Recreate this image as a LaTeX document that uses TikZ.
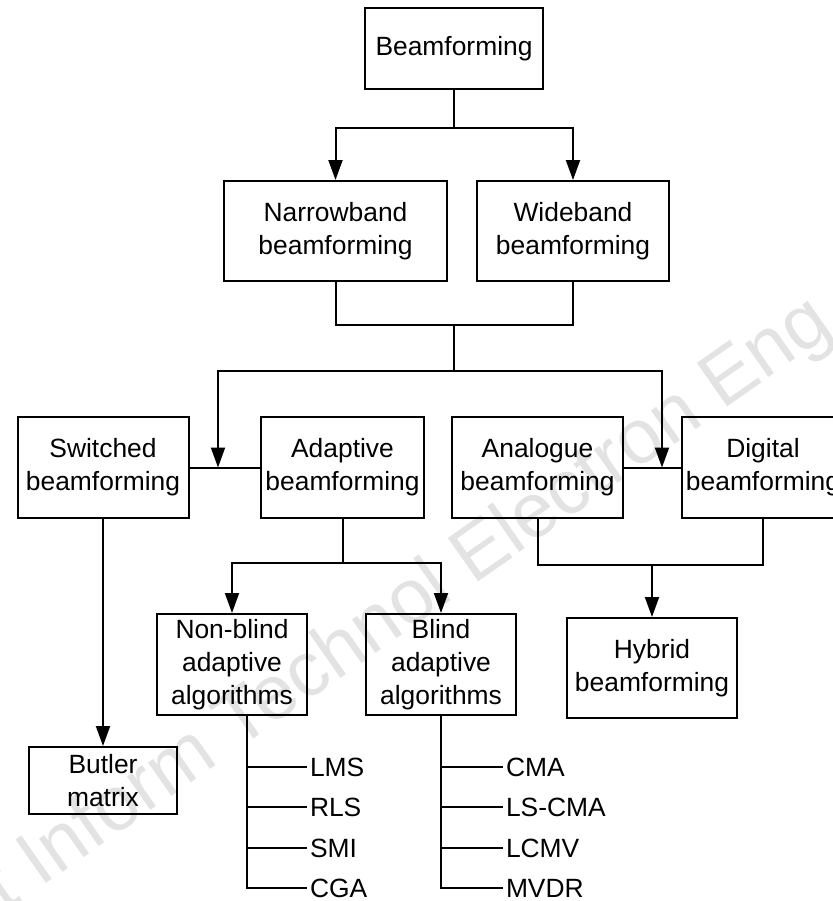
\documentclass[tikz,border=0pt]{standalone}
\usepackage{fontspec}
\setmainfont{Liberation Sans}
\usepackage{tikz}
\usetikzlibrary{arrows.meta, positioning, calc}

\begin{document}
\begin{tikzpicture}[
        x=0.5pt, y=-0.5pt,
        font=\fontsize{13.2}{16.5}\selectfont,
        line width=1pt,
        >={Triangle[length=10pt, width=7pt]},
        box/.style={draw, line width=1pt, align=center, inner sep=1pt},
        leaf/.style={anchor=west, inner sep=1pt},
        wmark/.style={text=black!11, font=\fontsize{38.6}{44}\selectfont, inner sep=0pt}
    ]
        \useasboundingbox (0,0) rectangle (833,901);
        % --- Водени жиг ---
        \node[wmark, rotate=35, anchor=base west] (wm) at (-125,1004) {Front Inform Technol Electron Eng};
        % --- Корен и две врсте ---
        \node[box, minimum width=89pt, minimum height=40.5pt] (beam) at (454,48.5) {Beamforming};
        \node[box, minimum width=111.5pt, minimum height=50pt] (narrow) at (335.5,231) {Narrowband\\ beamforming};
        \node[box, minimum width=96pt, minimum height=50pt] (wide) at (573,231) {Wideband\\ beamforming};
        % --- Други ниво ---
        \node[box, minimum width=85.5pt, minimum height=50.5pt] (switched) at (103,467.5) {Switched\\ beamforming};
        \node[box, minimum width=81.5pt, minimum height=50.5pt] (adaptive) at (342.5,467.5) {Adaptive\\ beamforming};
        \node[box, minimum width=85.5pt, minimum height=50.5pt] (analogue) at (537.5,467.5) {Analogue\\ beamforming};
        \node[box, minimum width=81.5pt, minimum height=50.5pt] (digital) at (763,467.5) {Digital\\ beamforming};
        % --- Трећи ниво ---
        \node[box, minimum width=75pt, minimum height=50.5pt] (nonblind) at (232,664.5) {Non-blind\\ adaptive\\ algorithms};
        \node[box, minimum width=75pt, minimum height=50.5pt] (blind) at (441,664.5) {Blind\\ adaptive\\ algorithms};
        \node[box, minimum width=85pt, minimum height=50pt] (hybrid) at (652,668) {Hybrid\\ beamforming};
        \node[box, minimum width=74pt, minimum height=33.5pt] (butler) at (103,780.5) {Butler\\ matrix};
        % --- Алгоритми ---
        \node[leaf] (lms) at (307,767) {LMS};
        \node[leaf] (rls) at (307,807) {RLS};
        \node[leaf] (smi) at (307,848) {SMI};
        \node[leaf] (cga) at (307,888) {CGA};
        \node[leaf] (cma) at (503,767) {CMA};
        \node[leaf] (lscma) at (503,807) {LS-CMA};
        \node[leaf] (lcmv) at (503,848) {LCMV};
        \node[leaf] (mvdr) at (503,888) {MVDR};

        % --- Чворишта ---
        \coordinate (jtop) at (454,128);
        \coordinate (jmid) at (454,325);
        \coordinate (jsplit) at (454,371);
        \coordinate (jsw) at (218,467.5);
        \coordinate (jan) at (662,467.5);
        \coordinate (jad) at (342.5,563);
        \coordinate (jhy) at (652,564.5);
        \coordinate (nbtrunk) at ($(nonblind.south)+(15,0)$);

        % --- Гране ---
        \draw (beam.south) -- (jtop);
        \draw[->] (jtop) -| (narrow.north);
        \draw[->] (jtop) -| (wide.north);
        \draw (narrow.south) |- (jmid) -| (wide.south);
        \draw (jmid) -- (jsplit);
        \draw (switched.east) -- (adaptive.west);
        \draw (analogue.east) -- (digital.west);
        \draw[->] (jsplit) -| (jsw);
        \draw[->] (jsplit) -| (jan);
        \draw (adaptive.south) -- (jad);
        \draw[->] (jad) -| (nonblind.north);
        \draw[->] (jad) -| (blind.north);
        \draw (analogue.south) |- (jhy) -| (digital.south);
        \draw[->] (jhy) -- (hybrid.north);
        \draw[->] (switched.south) -- (butler.north);
        % списак алгоритама
        \draw (nbtrunk) |- (lms.west);
        \draw (nbtrunk) |- (rls.west);
        \draw (nbtrunk) |- (smi.west);
        \draw (nbtrunk) |- (cga.west);
        \draw (blind.south) |- (cma.west);
        \draw (blind.south) |- (lscma.west);
        \draw (blind.south) |- (lcmv.west);
        \draw (blind.south) |- (mvdr.west);
    \end{tikzpicture}
\end{document}
